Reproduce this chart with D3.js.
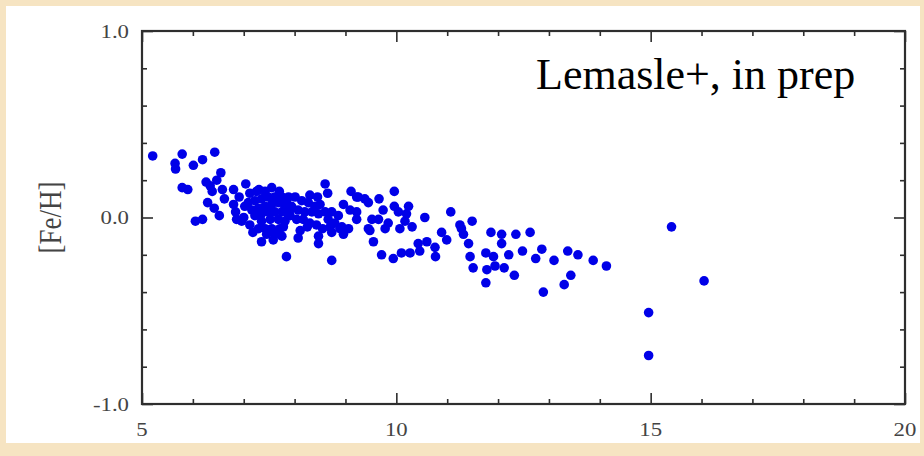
<!DOCTYPE html>
<html>
<head>
<meta charset="utf-8">
<script src="https://cdn.jsdelivr.net/npm/d3@7/dist/d3.min.js"></script>
<style>
  html, body { margin: 0; padding: 0; background: #f6e4c2; }
  svg { display: block; }
</style>
</head>
<body>
<svg id="chart" width="924" height="456"></svg>
<script>
// ---- Data ----
const periodDays = [
  5.21,5.65,5.66,5.79,5.79,5.90,6.01,6.19,6.43,6.55,6.26,6.34,6.47,6.29,6.42,6.05,6.19,6.52,6.58,6.62,6.38,
  6.80,7.04,6.91,6.80,6.84,6.86,6.96,7.12,7.12,7.25,7.42,
  7.09,7.22,7.35,7.48,7.61,7.75,7.84,
  7.16,7.29,7.42,7.55,7.68,7.81,7.91,
  7.22,7.35,7.48,7.61,7.75,7.88,
  7.35,7.52,7.68,7.81,
  7.42,7.55,7.71,7.78,7.29,
  7.35,7.58,7.75,7.84,
  7.30,7.55,7.70,7.02,7.00,7.18,7.62,7.45,
  8.60,8.65,9.11,9.22,8.50,8.96,9.09,9.22,
  7.88,8.01,8.14,8.27,8.40,7.94,8.07,8.20,8.34,8.47,8.60,8.73,8.86,
  7.91,8.04,8.17,8.30,8.43,8.66,8.79,8.93,9.06,
  8.11,8.07,8.47,8.47,8.70,8.73,8.73,8.89,8.96,
  8.25,8.55,8.30,8.45,
  9.96,9.25,9.38,9.45,9.66,9.96,10.24,9.22,9.74,10.04,10.20,10.56,9.52,9.65,9.84,10.17,
  9.45,9.48,9.78,10.07,10.31,9.55,10.43,10.60,9.71,9.94,10.10,10.27,10.46,
  11.07,11.25,11.28,11.32,11.49,10.89,10.99,10.76,10.77,11.42,11.45,11.51,11.86,12.07,12.35,
  12.48,12.07,12.21,11.76,11.91,11.94,11.78,12.12,12.32,11.76,
  12.63,12.86,12.74,13.10,13.37,13.57,13.87,14.13,12.89,13.30,13.43,15.41,16.05,14.96,14.96
];
const feH = [
  0.33,0.29,0.26,0.34,0.16,0.15,0.28,0.31,0.35,0.24,0.19,0.17,0.20,0.08,0.05,-0.02,-0.01,0.01,0.15,0.10,0.14,
  0.15,0.18,0.11,0.07,0.03,-0.01,-0.02,-0.04,0.13,0.14,0.14,
  0.08,0.09,0.10,0.11,0.11,0.11,0.09,
  0.04,0.05,0.06,0.07,0.08,0.06,0.04,
  0.01,0.02,0.03,0.03,0.03,0.01,
  -0.02,-0.01,-0.01,-0.02,
  -0.06,-0.06,-0.06,-0.05,-0.06,
  -0.13,-0.12,-0.10,-0.21,
  0.15,0.16,0.14,0.06,0.00,-0.08,-0.09,-0.09,
  0.18,0.13,0.14,0.11,0.07,0.07,0.04,-0.01,
  0.11,0.11,0.09,0.08,0.06,0.06,0.04,0.03,0.03,0.02,0.03,0.03,0.01,
  0.01,-0.01,-0.01,-0.03,-0.04,-0.01,-0.03,-0.05,-0.06,
  -0.07,-0.11,-0.10,-0.14,-0.05,-0.08,-0.23,-0.06,-0.09,
  -0.05,-0.06,0.12,0.11,
  0.14,0.11,0.10,0.08,0.10,0.06,0.06,0.03,0.04,0.03,0.02,0.00,-0.01,-0.01,-0.03,-0.02,
  -0.06,-0.07,-0.06,-0.06,-0.05,-0.13,-0.14,-0.13,-0.20,-0.22,-0.19,-0.19,-0.18,
  0.03,-0.04,-0.06,-0.09,-0.02,-0.08,-0.12,-0.16,-0.21,-0.14,-0.21,-0.27,-0.08,-0.09,-0.09,
  -0.18,-0.14,-0.20,-0.19,-0.21,-0.26,-0.28,-0.27,-0.31,-0.35,
  -0.08,-0.17,-0.22,-0.23,-0.18,-0.20,-0.23,-0.26,-0.40,-0.36,-0.31,-0.05,-0.34,-0.51,-0.74
];
const xTickLabels = [5, 10, 15, 20];
const yTickValues = [-1.0, 0.0, 1.0];
const yTickLabels = ["-1.0", "0.0", "1.0"];
const xDomain = [5, 20];
const yDomain = [-1.0, 1.0];
const yAxisTitle = "[Fe/H]";
const annotation = "Lemasle+, in prep";

// ---- Layout ----
const svg = d3.select("#chart");
const W = 924, H = 456;
const mLeft = 142, mRight = 905, mTop = 31, mBottom = 404;

svg.append("rect").attr("x", 0).attr("y", 0).attr("width", W).attr("height", H).attr("fill", "#f6e4c2");
svg.append("rect").attr("x", 6).attr("y", 6).attr("width", 914).attr("height", 437).attr("fill", "#ffffff");

const x = d3.scaleLinear().domain(xDomain).range([mLeft, mRight]);
const y = d3.scaleLinear().domain(yDomain).range([mBottom, mTop]);

const axisColor = "#2e2e2e";
const labelColor = "#444";
const font = "'Liberation Serif', 'Times New Roman', serif";

const xMinor = d3.range(5, 20.001, 1);
const yMinor = d3.range(-1, 1.0001, 0.2).map(v => Math.round(v * 10) / 10);

function drawAxis(gen, pos) {
  const g = svg.append("g").attr("transform", pos).call(gen);
  g.select(".domain").remove();
  g.selectAll("line").attr("stroke", axisColor).attr("stroke-width", 1.6);
  g.selectAll("text").remove();
  return g;
}
const xMin = xMinor.filter(v => !xTickLabels.includes(v));
const yMin = yMinor.filter(v => !yTickValues.includes(v));
drawAxis(d3.axisTop(x).tickValues(xMin).tickSize(5), `translate(0,${mBottom})`);
drawAxis(d3.axisTop(x).tickValues(xTickLabels).tickSize(11), `translate(0,${mBottom})`);
drawAxis(d3.axisBottom(x).tickValues(xMin).tickSize(5), `translate(0,${mTop})`);
drawAxis(d3.axisBottom(x).tickValues(xTickLabels).tickSize(11), `translate(0,${mTop})`);
drawAxis(d3.axisRight(y).tickValues(yMin).tickSize(5), `translate(${mLeft},0)`);
drawAxis(d3.axisRight(y).tickValues(yTickValues).tickSize(11), `translate(${mLeft},0)`);
drawAxis(d3.axisLeft(y).tickValues(yMin).tickSize(5), `translate(${mRight},0)`);
drawAxis(d3.axisLeft(y).tickValues(yTickValues).tickSize(11), `translate(${mRight},0)`);

svg.append("rect").attr("x", mLeft).attr("y", mTop).attr("width", mRight - mLeft).attr("height", mBottom - mTop)
  .attr("fill", "none").attr("stroke", axisColor).attr("stroke-width", 2.2);

const sx = 1.2;
svg.append("g").selectAll("text").data(xTickLabels).join("text")
  .attr("transform", d => `translate(${x(d)},436) scale(${sx},1)`)
  .attr("text-anchor", "middle")
  .attr("font-family", font).attr("font-size", 19).attr("fill", labelColor)
  .text(d => String(d));

svg.append("g").selectAll("text").data(yTickValues).join("text")
  .attr("transform", d => `translate(129,${y(d) + 6.5}) scale(${sx},1)`)
  .attr("text-anchor", "end")
  .attr("font-family", font).attr("font-size", 19).attr("fill", labelColor)
  .text((d, i) => yTickLabels[i]);

svg.append("text")
  .attr("transform", `translate(61,${(mTop + mBottom) / 2}) scale(${sx},1) rotate(-90)`)
  .attr("text-anchor", "middle")
  .attr("font-family", font).attr("font-size", 27).attr("fill", labelColor)
  .text(yAxisTitle);

svg.append("text")
  .attr("x", 536).attr("y", 89)
  .attr("font-family", font).attr("font-size", 44).attr("fill", "#000")
  .text(annotation);

const pts = periodDays.map((p, i) => ({ p, f: feH[i] }));
svg.append("g").selectAll("circle").data(pts).join("circle")
  .attr("cx", d => x(d.p)).attr("cy", d => y(d.f)).attr("r", 4.8)
  .attr("fill", "#0000e8");
</script>
</body>
</html>
